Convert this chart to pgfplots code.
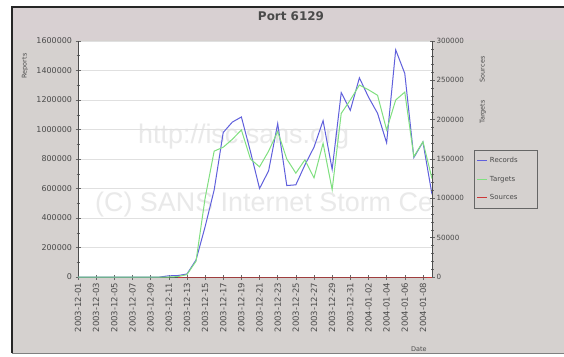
\documentclass[border=0pt]{standalone}
\usepackage{pgfplots}
\usepackage{pgfplotstable}
\pgfplotsset{compat=1.18}
\usepackage{fontspec}
\setmainfont{DejaVu Sans}
\newfontfamily\wmfont{Liberation Sans}
\definecolor{bg}{HTML}{D5D1CF}
\definecolor{bgtop}{HTML}{D8D0D2}
\definecolor{rec}{HTML}{6060DC}
\definecolor{tar}{HTML}{80E080}
\definecolor{src}{HTML}{CC3838}
\definecolor{lbl}{HTML}{4A4A4A}
\definecolor{wm}{HTML}{E9E9E9}
\definecolor{gridc}{HTML}{E0E0E0}

\pgfplotstableread{
idx rec tar src
0 0 0 0
1 0 0 0
2 0 0 0
3 0 0 0
4 0 0 0
5 0 0 0
6 0 0 0
7 0 0 0
8 0 0 0
9 0 0 0
10 8000 0 0
11 10000 500 0
12 20000 3000 0
13 115000 20000 0
14 340000 100000 0
15 590000 160000 0
16 980000 165000 0
17 1050000 175000 0
18 1085000 187000 0
19 850000 150000 0
20 600000 140000 0
21 720000 160000 0
22 1040000 185000 0
23 620000 150000 0
24 625000 132000 0
25 760000 149000 0
26 880000 126000 0
27 1060000 170000 0
28 730000 111000 0
29 1250000 208000 0
30 1130000 225000 0
31 1350000 244000 0
32 1220000 238000 0
33 1110000 231000 0
34 910000 187000 0
35 1540000 225000 0
36 1380000 235000 0
37 810000 153000 0
38 915000 172000 0
39 560000 125000 0
}\portdata

\begin{document}
\begin{tikzpicture}[x=1bp,y=1bp]
\useasboundingbox (0,0) rectangle (564,356);
\fill[white] (0,0) rectangle (564,356);
\fill[bg] (12,3) rectangle (564,349);
\fill[bgtop] (13,316) rectangle (564,348);
\draw[black!85, line width=1.2bp] (12,3) -- (12,349) -- (564,349);
\draw[gray, line width=0.8bp] (12,3) -- (564,3);
\fill[white] (78,79) rectangle (432,315);
\begin{scope}
\clip (78,79) rectangle (432,315);
\node[text=wm, anchor=west, inner sep=0] at (138,219) {\wmfont\fontsize{27}{30}\selectfont http://isc.sans.org};
\node[text=wm, anchor=west, inner sep=0] at (95,151) {\wmfont\fontsize{27}{30}\selectfont (C) SANS Internet Storm Center};
\end{scope}
\node[font=\bfseries\fontsize{12}{14}\selectfont, text=lbl] at (291,340) {Port 6129};

\begin{axis}[
  at={(78bp,79bp)}, anchor=south west, scale only axis,
  width=354bp, height=236bp,
  xmin=0, xmax=39, ymin=0, ymax=1600000,
  axis x line*=bottom, axis y line*=left,
  axis line style={draw=black!70, line width=0.6bp},
  xtick={0,2,...,38},
  xticklabels={2003-12-01,2003-12-03,2003-12-05,2003-12-07,2003-12-09,2003-12-11,2003-12-13,2003-12-15,2003-12-17,2003-12-19,2003-12-21,2003-12-23,2003-12-25,2003-12-27,2003-12-29,2003-12-31,2004-01-02,2004-01-04,2004-01-06,2004-01-08},
  x tick label style={rotate=90, anchor=east, font=\fontsize{8.5}{9}\selectfont, text=lbl},
  ytick={0,200000,...,1600000}, minor y tick num=1,
  scaled y ticks=false,
  /pgf/number format/assume math mode=true,
  yticklabel style={/pgf/number format/fixed, /pgf/number format/1000 sep={}, font=\fontsize{8}{9}\selectfont, text=lbl},
  ymajorgrids, major grid style={gridc, line width=0.6bp},
  tick align=center, major tick length=5bp, minor tick length=3bp,
  tick style={black!60, line width=0.5bp},
  ylabel={Reports},
  ylabel style={at={(axis description cs:-0.15,0.894)}, anchor=center, font=\fontsize{6.5}{7}\selectfont, text=lbl},
  xlabel={Date},
  xlabel style={at={(axis description cs:0.963,-0.305)}, anchor=center, font=\fontsize{6.5}{7}\selectfont, text=lbl},
]
\addplot[rec, line width=1bp] table[x=idx, y=rec] {\portdata};
\end{axis}

\begin{axis}[
  at={(78bp,79bp)}, anchor=south west, scale only axis,
  width=354bp, height=236bp,
  xmin=0, xmax=39, ymin=0, ymax=300000,
  axis x line=none, axis y line*=right,
  axis line style={draw=black!70, line width=0.6bp},
  ytick={0,50000,...,300000}, minor y tick num=4,
  scaled y ticks=false,
  /pgf/number format/assume math mode=true,
  yticklabel style={/pgf/number format/fixed, /pgf/number format/1000 sep={}, font=\fontsize{7.2}{9}\selectfont, text=lbl, xshift=-1.5bp},
  tick align=center, major tick length=5bp, minor tick length=3bp,
  tick style={black!60, line width=0.5bp},
  ylabel={Targets\hspace{18bp}Sources},
  ylabel style={at={(axis description cs:1.144,0.792)}, anchor=center, font=\fontsize{6.5}{7}\selectfont, text=lbl},
  legend style={at={(1.118,0.538)}, anchor=north west, fill=bg, draw=black!60,
    font=\fontsize{7}{8}\selectfont, text=lbl, inner xsep=3bp, inner ysep=5bp, row sep=8bp},
  legend cell align=left,
  legend image code/.code={\draw[#1] (0bp,0bp) -- (10bp,0bp);},
]
\addlegendimage{rec, line width=1bp}
\addlegendentry{\makebox[42bp][l]{Records}}
\addplot[tar, line width=1bp] table[x=idx, y=tar] {\portdata};
\addlegendentry{\makebox[42bp][l]{Targets}}
\addplot[src, line width=1bp, restrict x to domain=11:39] table[x=idx, y=src] {\portdata};
\addlegendentry{\makebox[42bp][l]{Sources}}
\end{axis}
\end{tikzpicture}
\end{document}
